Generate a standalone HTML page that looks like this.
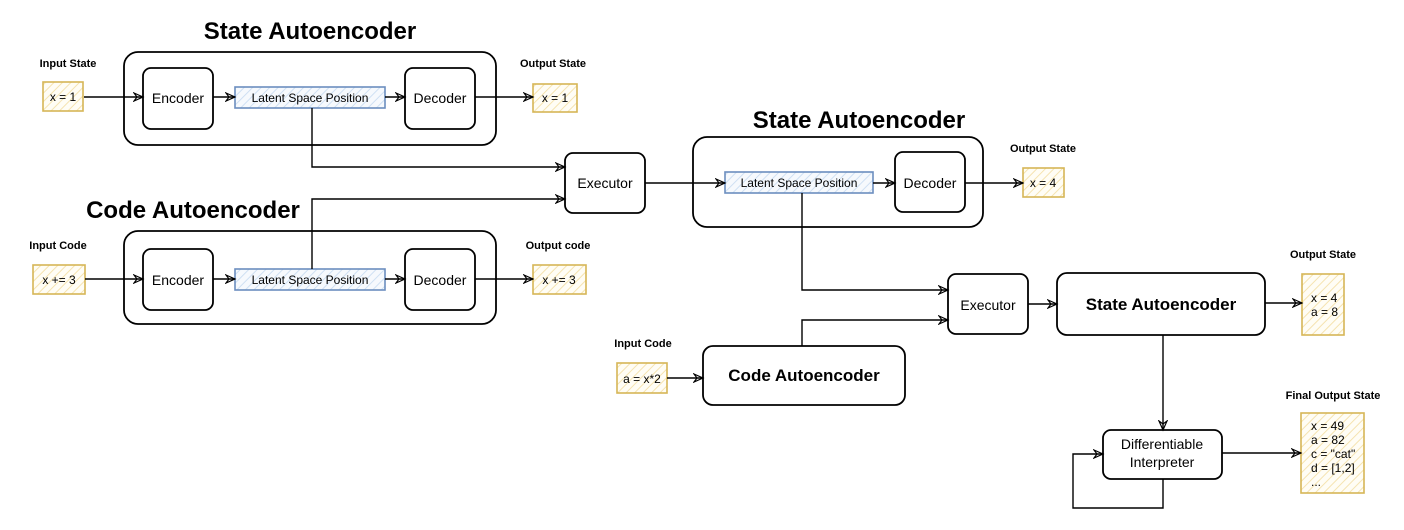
<!DOCTYPE html>
<html><head><meta charset="utf-8"><style>
html,body{margin:0;padding:0;background:#fff;}
svg{display:block;font-family:"Liberation Sans",Arial,sans-serif;}
</style></head><body>
<svg width="1404" height="530" viewBox="0 0 1404 530" xmlns="http://www.w3.org/2000/svg">
<defs>
<pattern id="hy" width="6" height="6" patternUnits="userSpaceOnUse" patternTransform="rotate(45)"><rect width="6" height="6" fill="#fffdf5"/><line x1="0" y1="0" x2="0" y2="6" stroke="#f5e3b0" stroke-width="2"/></pattern>
<pattern id="hb" width="6" height="6" patternUnits="userSpaceOnUse" patternTransform="rotate(45)"><rect width="6" height="6" fill="#f6f9fd"/><line x1="0" y1="0" x2="0" y2="6" stroke="#cfe0f3" stroke-width="2"/></pattern>
<marker id="a" markerWidth="12" markerHeight="10" refX="10" refY="5" orient="auto" markerUnits="userSpaceOnUse"><path d="M1,1 L10,5 L1,9 L4,5 Z" fill="none" stroke="#000" stroke-width="1.2"/></marker>
</defs>
<g fill="none" stroke="#000" stroke-width="1.8">
<rect x="124" y="52" width="372" height="93" rx="14"/>
<rect x="143" y="68" width="70" height="61" rx="8"/>
<rect x="405" y="68" width="70" height="61" rx="8"/>
<rect x="124" y="231" width="372" height="93" rx="14"/>
<rect x="143" y="249" width="70" height="61" rx="8"/>
<rect x="405" y="249" width="70" height="61" rx="8"/>
<rect x="565" y="153" width="80" height="60" rx="8"/>
<rect x="693" y="137" width="290" height="90" rx="14"/>
<rect x="895" y="152" width="70" height="60" rx="8"/>
<rect x="948" y="274" width="80" height="60" rx="8"/>
<rect x="1057" y="273" width="208" height="62" rx="10"/>
<rect x="703" y="346" width="202" height="59" rx="10"/>
<rect x="1103" y="430" width="119" height="49" rx="8"/>
</g>
<g stroke="#d6b656" stroke-width="1.6" fill="url(#hy)">
<rect x="43" y="82" width="40" height="29"/>
<rect x="533" y="84" width="44" height="28"/>
<rect x="33" y="265" width="52" height="29"/>
<rect x="533" y="265" width="53" height="29"/>
<rect x="1023" y="168" width="41" height="29"/>
<rect x="1302" y="274" width="42" height="61"/>
<rect x="617" y="363" width="50" height="30"/>
<rect x="1301" y="413" width="63" height="80"/>
</g>
<g stroke="#6c8ebf" stroke-width="1.6" fill="url(#hb)">
<rect x="235" y="87" width="150" height="21"/>
<rect x="235" y="269" width="150" height="21"/>
<rect x="725" y="172" width="148" height="21"/>
</g>
<g fill="none" stroke="#000" stroke-width="1.4" marker-end="url(#a)">
<path d="M84,97 H143"/>
<path d="M213,97 H235"/>
<path d="M385,97 H405"/>
<path d="M475,97 H533"/>
<path d="M85,279 H143"/>
<path d="M213,279 H235"/>
<path d="M385,279 H405"/>
<path d="M475,279 H533"/>
<path d="M312,108 V167 H565"/>
<path d="M312,269 V199 H565"/>
<path d="M645,183 H725"/>
<path d="M873,183 H895"/>
<path d="M965,183 H1023"/>
<path d="M802,193 V290 H948"/>
<path d="M802,346 V320 H948"/>
<path d="M1028,304 H1057"/>
<path d="M1265,303 H1302"/>
<path d="M667,378 H703"/>
<path d="M1163,335 V430"/>
<path d="M1163,479 V508 H1073 V454 H1103"/>
<path d="M1222,453 H1301"/>
</g>
<g fill="#000" text-anchor="middle">
<text x="310" y="39" font-size="24" font-weight="bold">State Autoencoder</text>
<text x="193" y="218" font-size="24" font-weight="bold">Code Autoencoder</text>
<text x="859" y="128" font-size="24" font-weight="bold">State Autoencoder</text>
<g font-size="11" font-weight="bold">
<text x="68" y="67">Input State</text>
<text x="553" y="67">Output State</text>
<text x="58" y="249">Input Code</text>
<text x="558" y="249">Output code</text>
<text x="1043" y="152">Output State</text>
<text x="1323" y="258">Output State</text>
<text x="643" y="347">Input Code</text>
<text x="1333" y="399">Final Output State</text>
</g>
<g font-size="14">
<text x="178" y="103">Encoder</text>
<text x="440" y="103">Decoder</text>
<text x="178" y="285">Encoder</text>
<text x="440" y="285">Decoder</text>
<text x="605" y="188">Executor</text>
<text x="930" y="188">Decoder</text>
<text x="988" y="310">Executor</text>
<text x="1162" y="449">Differentiable</text>
<text x="1162" y="467">Interpreter</text>
</g>
<g font-size="12">
<text x="310" y="102">Latent Space Position</text>
<text x="310" y="284">Latent Space Position</text>
<text x="799" y="187">Latent Space Position</text>
<text x="63" y="101">x = 1</text>
<text x="555" y="102">x = 1</text>
<text x="59" y="284">x += 3</text>
<text x="559" y="284">x += 3</text>
<text x="1043" y="187">x = 4</text>
<text x="642" y="383">a = x*2</text>
</g>
<text x="1161" y="310" font-size="17" font-weight="bold">State Autoencoder</text>
<text x="804" y="381" font-size="17" font-weight="bold">Code Autoencoder</text>
</g>
<g font-size="12" fill="#000">
<text x="1311" y="302">x = 4</text>
<text x="1311" y="316">a = 8</text>
<text x="1311" y="430">x = 49</text>
<text x="1311" y="444">a = 82</text>
<text x="1311" y="458">c = "cat"</text>
<text x="1311" y="472">d = [1,2]</text>
<text x="1311" y="486">...</text>
</g>
</svg>
</body></html>
